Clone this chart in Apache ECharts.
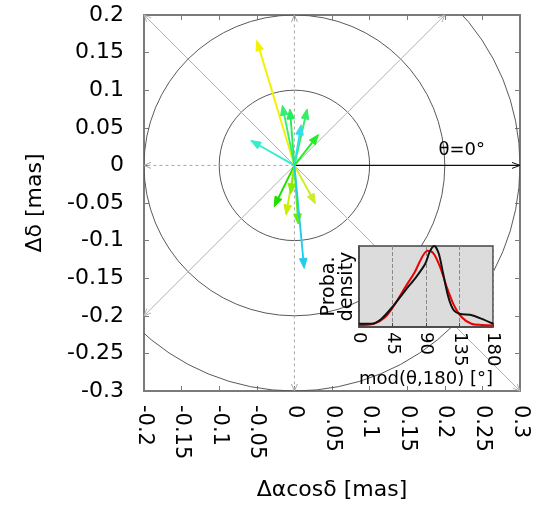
<!DOCTYPE html>
<html><head><meta charset="utf-8">
<script src="https://cdn.jsdelivr.net/npm/echarts@6/dist/echarts.min.js"></script>
<style>html,body{margin:0;padding:0;background:#fff}#c{width:538px;height:517px}</style>
</head><body><div id="c"></div>
<script>
// ---- main panel data (mas) ----
const vecDx = [-0.050, -0.058, -0.016, -0.006, 0.017, 0.009, 0.032, -0.027, -0.011, -0.005, 0.005, 0.028, 0.013];
const vecDy = [ 0.166,  0.033,  0.080,  0.075, 0.075, 0.054, 0.041, -0.055, -0.066, -0.038, -0.078, -0.051, -0.137];
const vecColors = ['#f2f200', '#33eecc', '#33ee77', '#22ee55', '#33ee66', '#33ddee', '#22ee22',
                   '#22dd00', '#ccee00', '#88ee00', '#66ee00', '#ccee22', '#22ccee'];
const ringRadii = [0.1, 0.2, 0.3];
const spokeAngles = [0, 45, 90, 135, 180, 225, 270, 315];
const xRange = [-0.2, 0.3];
const yRange = [-0.3, 0.2];
const tickStep = 0.05;

// ---- inset data ----
const densX     = [0, 17, 30, 46, 62, 77, 89, 95, 101, 107, 113, 120, 127, 136, 149, 165, 180];
const densBlack = [0.04, 0.04, 0.10, 0.26, 0.45, 0.62, 0.78, 0.93, 1.0, 0.91, 0.66, 0.37, 0.21, 0.16, 0.15, 0.10, 0.04];
const fitX   = [0, 20, 35, 48, 62, 75, 84, 92, 100, 109, 118, 127, 138, 151, 165, 180];
const fitRed = [0.025, 0.04, 0.12, 0.28, 0.49, 0.68, 0.85, 0.94, 0.91, 0.74, 0.49, 0.28, 0.12, 0.04, 0.025, 0.02];
const insetTicks = [0, 180, 45];

const FONT = 'DejaVu Sans';

function arrow(p0, p1, color, width, headLen, headW, filled, extra) {
  const dx = p1[0] - p0[0], dy = p1[1] - p0[1];
  const L = Math.hypot(dx, dy) || 1;
  const ux = dx / L, uy = dy / L;
  const bx = p1[0] - ux * headLen, by = p1[1] - uy * headLen;
  const left = [bx - uy * headW, by + ux * headW];
  const right = [bx + uy * headW, by - ux * headW];
  const lineStyle = Object.assign({ stroke: color, lineWidth: width, fill: null }, extra || {});
  const kids = [{
    type: 'line',
    shape: { x1: p0[0], y1: p0[1], x2: filled ? bx : p1[0], y2: filled ? by : p1[1] },
    style: lineStyle
  }];
  if (filled) {
    kids.push({ type: 'polygon', shape: { points: [p1, left, right] }, style: { fill: color, stroke: color, lineWidth: 1 } });
  } else {
    kids.push({ type: 'polyline', shape: { points: [left, p1, right] }, style: { stroke: color, lineWidth: 1, fill: null } });
  }
  return kids;
}

const chart = echarts.init(document.getElementById('c'), null, { renderer: 'canvas' });

const axisGray = '#7a7a7a';
const mainX = {
  type: 'value', gridIndex: 0, min: xRange[0], max: xRange[1], interval: tickStep,
  axisLine: { show: true, onZero: false, lineStyle: { color: axisGray, width: 2 } },
  axisTick: { show: true, inside: true, length: 5, lineStyle: { color: axisGray } },
  splitLine: { show: false }
};
const mainY = {
  type: 'value', gridIndex: 0, min: yRange[0], max: yRange[1], interval: tickStep,
  axisLine: { show: true, onZero: false, lineStyle: { color: axisGray, width: 2 } },
  axisTick: { show: true, inside: true, length: 5, lineStyle: { color: axisGray } },
  splitLine: { show: false }
};

const option = {
  backgroundColor: '#fff',
  animation: false,
  grid: [
    { left: 144, top: 15, width: 376, height: 376, show: false },
    { left: 359, top: 246, width: 134, height: 81, show: true, backgroundColor: '#dcdcdc',
      borderColor: '#444', borderWidth: 1.5, z: 10 }
  ],
  xAxis: [
    Object.assign({}, mainX, {
      position: 'bottom',
      axisLabel: { rotate: -90, fontSize: 21, color: '#000', fontFamily: FONT, margin: 14 },
      name: 'Δαcosδ [mas]', nameLocation: 'middle', nameGap: 88,
      nameTextStyle: { fontSize: 22, color: '#000', fontFamily: FONT }
    }),
    Object.assign({}, mainX, { position: 'top', axisLabel: { show: false } }),
    {
      type: 'value', gridIndex: 1, min: insetTicks[0], max: insetTicks[1], interval: insetTicks[2], z: 11,
      axisLine: { show: true, lineStyle: { color: '#444', width: 1.5 } },
      axisTick: { show: true, inside: true, length: 4, lineStyle: { color: '#444' } },
      axisLabel: { rotate: -90, fontSize: 18, color: '#000', fontFamily: FONT, margin: 5 },
      splitLine: { show: true, lineStyle: { type: 'dashed', color: '#8a8a8a', width: 1 } },
      name: 'mod(θ,180) [°]', nameLocation: 'middle', nameGap: 40,
      nameTextStyle: { fontSize: 18, color: '#000', fontFamily: FONT }
    }
  ],
  yAxis: [
    Object.assign({}, mainY, {
      position: 'left',
      axisLabel: { fontSize: 22, color: '#000', fontFamily: FONT, margin: 20 },
      name: 'Δδ [mas]', nameLocation: 'middle', nameGap: 98, nameRotate: 90,
      nameTextStyle: { fontSize: 22, color: '#000', fontFamily: FONT }
    }),
    Object.assign({}, mainY, { position: 'right', axisLabel: { show: false } }),
    {
      type: 'value', gridIndex: 1, min: 0, max: 1, z: 11,
      axisLine: { show: true, lineStyle: { color: '#444', width: 1.5 } },
      axisTick: { show: false }, axisLabel: { show: false }, splitLine: { show: false },
      name: 'Proba.\ndensity', nameLocation: 'middle', nameGap: 3, nameRotate: 90,
      nameTextStyle: { fontSize: 19, color: '#000', fontFamily: FONT, lineHeight: 18 }
    }
  ],
  series: [
    { // rings
      type: 'custom', xAxisIndex: 0, yAxisIndex: 0, clip: true, z: 2, silent: true,
      data: ringRadii.map(r => [r, 0]),
      renderItem: function (params, api) {
        const c = api.coord([0, 0]);
        const e = api.coord([api.value(0), 0]);
        return { type: 'circle', shape: { cx: c[0], cy: c[1], r: e[0] - c[0] },
                 style: { fill: null, stroke: '#5a5a5a', lineWidth: 1 } };
      }
    },
    { // spokes
      type: 'custom', xAxisIndex: 0, yAxisIndex: 0, clip: false, z: 3, silent: true,
      data: spokeAngles.map(a => [0, 0, a]),
      renderItem: function (params, api) {
        const a = api.value(2) * Math.PI / 180;
        let ux = Math.cos(a), uy = Math.sin(a);
        if (Math.abs(ux) < 1e-9) ux = 0;
        if (Math.abs(uy) < 1e-9) uy = 0;
        let t = Infinity;
        if (ux > 0) t = Math.min(t, xRange[1] / ux);
        if (ux < 0) t = Math.min(t, xRange[0] / ux);
        if (uy > 0) t = Math.min(t, yRange[1] / uy);
        if (uy < 0) t = Math.min(t, yRange[0] / uy);
        const p0 = api.coord([0, 0]);
        const p1 = api.coord([t * ux, t * uy]);
        const deg = api.value(2);
        let kids;
        if (deg === 0) {
          kids = arrow(p0, p1, '#111', 1.2, 8, 3, false);
          kids.push({ type: 'text', x: p1[0] - 35, y: p1[1] - 15,
            style: { text: 'θ=0°', fontSize: 18, fontFamily: FONT, fill: '#000', align: 'right', verticalAlign: 'middle' } });
        } else if (deg % 90 === 0) {
          kids = arrow(p0, p1, '#a8a8a8', 1, 7, 3, false, { lineDash: [3, 3] });
        } else {
          kids = arrow(p0, p1, '#b4b4b4', 1, 7, 3, false);
        }
        return { type: 'group', children: kids };
      }
    },
    { // vectors
      type: 'custom', xAxisIndex: 0, yAxisIndex: 0, clip: false, z: 5, silent: true,
      data: vecDx.map((d, i) => [d, vecDy[i], i]),
      renderItem: function (params, api) {
        const p0 = api.coord([0, 0]);
        const p1 = api.coord([api.value(0), api.value(1)]);
        return { type: 'group', children: arrow(p0, p1, vecColors[api.value(2)], 1.9, 10, 3.8, true) };
      }
    },
    {
      type: 'line', xAxisIndex: 2, yAxisIndex: 2, z: 12, smooth: 0.3, symbol: 'none',
      data: fitX.map((x, i) => [x, fitRed[i]]),
      lineStyle: { color: '#ee0000', width: 2 }
    },
    {
      type: 'line', xAxisIndex: 2, yAxisIndex: 2, z: 13, smooth: 0.3, symbol: 'none',
      data: densX.map((x, i) => [x, densBlack[i]]),
      lineStyle: { color: '#111', width: 2 }
    }
  ]
};
chart.setOption(option);
</script>
</body></html>
